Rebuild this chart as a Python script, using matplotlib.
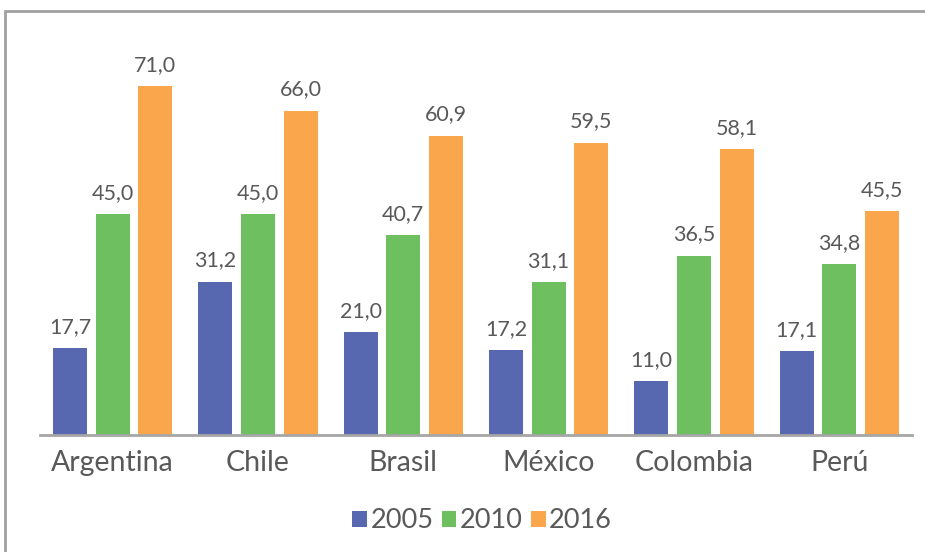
import numpy as np
import matplotlib
matplotlib.use("Agg")
import matplotlib.pyplot as plt
from matplotlib.patches import Rectangle

# data
countries = ['Argentina', 'Chile', 'Brasil', 'México', 'Colombia', 'Perú']
years = ['2005', '2010', '2016']
vals_2005 = [17.7, 31.2, 21.0, 17.2, 11.0, 17.1]
vals_2010 = [45.0, 45.0, 40.7, 31.1, 36.5, 34.8]
vals_2016 = [71.0, 66.0, 60.9, 59.5, 58.1, 45.5]
colors = ['#5767B0', '#6DBF60', '#F9A64C']

plt.rcParams['font.family'] = ['Lato', 'DejaVu Sans']
txt = '#595959'

W, H = 925, 552
fig = plt.figure(figsize=(W / 100, H / 100), dpi=100)

# outer frame (right/bottom edges run off the image in the reference)
fig.patches.append(Rectangle((5 / W, -0.05), 1.0, 1 - 11 / H + 0.05,
                             transform=fig.transFigure, fill=False,
                             edgecolor='#A0A0A0', linewidth=2))

ax = fig.add_axes([40 / W, 1 - 435 / H, (912 - 40) / W, (435 - 30) / H])

x = np.arange(len(countries))
step = 0.293
width = 0.234
series = [vals_2005, vals_2010, vals_2016]
for i, (yr, vals) in enumerate(zip(years, series)):
    pos = x + (i - 1) * step
    bars = ax.bar(pos, vals, width, color=colors[i], label=yr)
    for b, v in zip(bars, vals):
        ax.annotate(f'{v:.1f}'.replace('.', ','), (b.get_x() + b.get_width() / 2, v),
                    xytext=(0, 8), textcoords='offset points',
                    ha='center', va='bottom', fontsize=15.5, color=txt)

ax.set_xlim(-0.5, len(countries) - 0.5)
ax.set_ylim(0, 405 / 4.915)
ax.set_yticks([])
ax.set_xticks(x)
ax.set_xticklabels(countries, fontsize=20.5, color=txt)
ax.tick_params(axis='x', length=0, pad=11)
for s in ['top', 'right', 'left']:
    ax.spines[s].set_visible(False)
ax.spines['bottom'].set_color('#A6A6A6')
ax.spines['bottom'].set_linewidth(2)

fig.legend(loc='center', bbox_to_anchor=(482 / W, 1 - 521 / H), ncol=3,
           frameon=False, fontsize=19.5, labelcolor=txt,
           handlelength=0.55, handleheight=0.55, handletextpad=0.12,
           columnspacing=0.3)

fig.savefig('out.png', dpi=100)
